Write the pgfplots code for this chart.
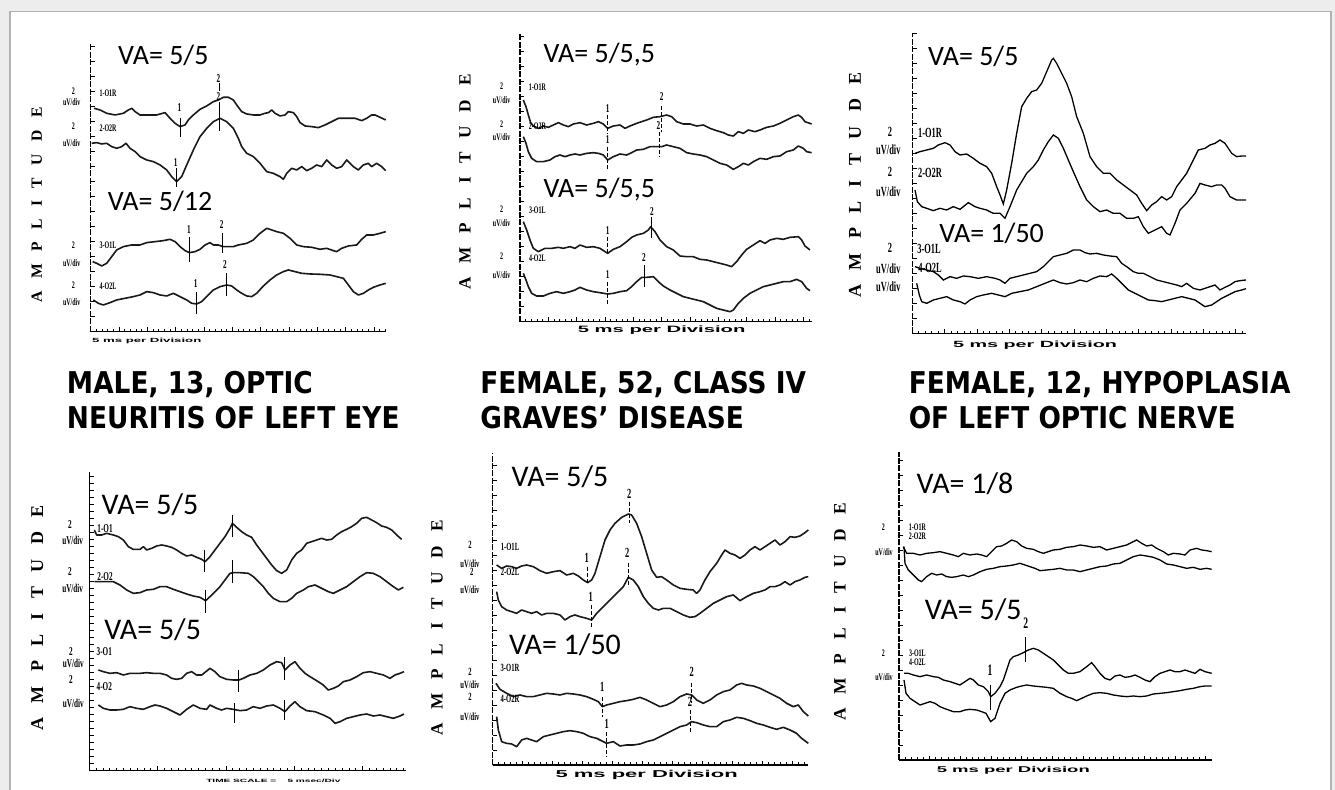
\documentclass[border=0pt]{standalone}
\usepackage{pgfplots}
\pgfplotsset{compat=1.18}
\usepackage{fontspec}
\setmainfont{Liberation Serif}
\newfontfamily\capf[FakeStretch=0.88]{DejaVu Sans}
\newfontfamily\vaf{Carlito}
\newfontfamily\ampf[LetterSpace=80]{Liberation Serif}
\newfontfamily\labf[FakeStretch=0.6]{Liberation Serif}
\newfontfamily\msf[FakeStretch=2.2]{Liberation Sans}
\tikzset{
  tr/.style={black!90, line width=0.8pt, line join=round, mark=none},
  mk/.style={black, line width=0.5pt},
  mkd/.style={black, line width=0.5pt, dash pattern=on 2pt off 1pt},
  va/.style={font={\vaf\fontsize{#1}{#1}\selectfont}, inner sep=0pt},
  lab/.style={font={\labf\bfseries\fontsize{#1}{#1}\selectfont}, inner sep=0pt},
  num/.style={font={\labf\bfseries\fontsize{#1}{#1}\selectfont}, inner sep=0pt},
  amp/.style={font={\ampf\bfseries\fontsize{#1}{#1}\selectfont}, inner sep=0pt, rotate=90},
  ms/.style={font={\msf\bfseries\fontsize{#1}{#1}\selectfont}, inner sep=0pt},
  captxt/.style={font={\capf\bfseries\fontsize{15}{15}\selectfont}, inner sep=0pt, anchor=base west},
}
\pgfplotsset{vep/.style={scale only axis, clip=false, anchor=north west,
  axis x line*=bottom, axis y line*=left, axis line style={-, black, line width=0.55pt},
  y axis line style={dash pattern=on 3pt off 0.7pt},
  tick align=inside, xticklabels={}, yticklabels={},
  major tick length=2.2pt, minor tick length=1.4pt,
  every tick/.style={black, line width=0.45pt}}}
\begin{document}
\begin{tikzpicture}
\useasboundingbox (0,0) rectangle (667.5pt,-395pt);
\fill[gray!14] (0,0) rectangle (667.5pt,-395pt);
\fill[white] (5pt,-5.8pt) rectangle (665.5pt,-400pt);
\draw[gray!60, line width=0.6pt] (5pt,-400pt) -- (5pt,-5.8pt) -- (665.5pt,-5.8pt) -- (665.5pt,-400pt);

% captions
\node[captxt] at (33.3pt,-196.7pt) {MALE, 13, OPTIC};
\node[captxt] at (33.3pt,-214.2pt) {NEURITIS OF LEFT EYE};
\node[captxt] at (240pt,-196.7pt) {FEMALE, 52, CLASS IV};
\node[captxt] at (240pt,-214.2pt) {GRAVES’ DISEASE};
\node[captxt] at (454.2pt,-196.7pt) {FEMALE, 12, HYPOPLASIA};
\node[captxt] at (454.2pt,-214.2pt) {OF LEFT OPTIC NERVE};

% ---------------- Panel 1 ----------------
\begin{axis}[vep, at={(45.35pt,-21.65pt)}, width=147.5pt, height=144.17pt,
  xmin=272, xmax=1157, ymin=-995, ymax=-130,
  xtick={272,357,...,1157}, minor xtick={272,289,...,1157}, ytick={-995,-950,...,-140}]
\addplot[tr] coordinates {(282,-325)(300,-330)(320,-340)(345,-345)(370,-340)(385,-330)(395,-325)(405,-335)(420,-345)(440,-345)(470,-345)(495,-338)(510,-355)(525,-370)(540,-380)(555,-375)(565,-360)(580,-345)(600,-328)(620,-318)(640,-305)(655,-300)(670,-292)(685,-292)(700,-300)(710,-315)(725,-335)(740,-342)(760,-345)(780,-345)(795,-340)(805,-338)(815,-330)(825,-340)(840,-348)(855,-345)(865,-335)(880,-338)(890,-350)(900,-368)(915,-378)(935,-380)(955,-383)(975,-375)(995,-365)(1015,-355)(1040,-355)(1065,-355)(1085,-362)(1100,-355)(1115,-345)(1125,-345)(1140,-352)(1157,-360)};
\addplot[tr] coordinates {(275,-430)(290,-428)(305,-432)(320,-430)(335,-440)(350,-445)(365,-440)(378,-430)(390,-445)(405,-455)(420,-470)(440,-480)(460,-485)(480,-495)(500,-510)(515,-530)(530,-545)(545,-530)(560,-495)(580,-450)(600,-410)(620,-385)(640,-365)(660,-355)(680,-365)(700,-385)(715,-415)(725,-440)(740,-460)(760,-470)(780,-490)(800,-515)(820,-520)(840,-530)(850,-538)(860,-520)(875,-505)(890,-510)(905,-500)(920,-512)(935,-505)(950,-495)(965,-500)(980,-480)(995,-495)(1010,-505)(1025,-500)(1040,-480)(1060,-500)(1075,-510)(1090,-495)(1105,-490)(1115,-500)(1130,-490)(1145,-500)(1157,-512)};
\addplot[tr] coordinates {(278,-785)(290,-790)(305,-798)(320,-790)(335,-770)(350,-750)(370,-740)(395,-735)(420,-735)(440,-728)(465,-725)(490,-722)(510,-718)(525,-725)(540,-740)(555,-752)(568,-758)(585,-755)(600,-748)(615,-735)(630,-728)(640,-735)(655,-735)(668,-740)(685,-740)(700,-740)(715,-735)(740,-730)(760,-720)(780,-700)(800,-685)(815,-690)(830,-695)(850,-700)(870,-715)(890,-735)(910,-740)(935,-742)(960,-748)(980,-745)(1000,-752)(1010,-755)(1025,-745)(1045,-738)(1070,-735)(1085,-718)(1100,-705)(1120,-705)(1140,-700)(1157,-695)};
\addplot[tr] coordinates {(280,-900)(295,-910)(310,-915)(330,-908)(350,-900)(375,-895)(400,-890)(420,-885)(440,-875)(460,-878)(480,-885)(500,-888)(520,-880)(540,-890)(560,-900)(575,-910)(590,-912)(605,-905)(620,-890)(640,-870)(660,-860)(680,-855)(695,-858)(710,-870)(725,-880)(740,-888)(755,-890)(770,-880)(790,-858)(810,-840)(830,-825)(850,-815)(865,-810)(885,-815)(905,-820)(930,-822)(960,-823)(990,-825)(1010,-830)(1030,-835)(1045,-855)(1060,-875)(1075,-885)(1090,-880)(1105,-870)(1120,-862)(1140,-855)(1157,-850)};
\node[va=14] at (axis cs:490,-165) {VA= 5/5};
\node[va=14] at (axis cs:480,-605) {VA= 5/12};
\node[amp=7.8] at (axis cs:110,-615) {AMPLITUDE};
\node[ms=3.0] at (axis cs:440,-1022) {5 ms per Division};
\node[lab=5] at (axis cs:220,-275) {2}; \node[lab=5] at (axis cs:215,-305) {uV/div}; \node[lab=5] at (axis cs:324,-280) {1-O1R};
\node[lab=5] at (axis cs:220,-380) {2}; \node[lab=5] at (axis cs:215,-430) {uV/div}; \node[lab=5] at (axis cs:324,-385) {2-O2R};
\node[lab=5] at (axis cs:220,-735) {2}; \node[lab=5] at (axis cs:215,-790) {uV/div}; \node[lab=5] at (axis cs:324,-735) {3-O1L};
\node[lab=5] at (axis cs:220,-855) {2}; \node[lab=5] at (axis cs:215,-905) {uV/div}; \node[lab=5] at (axis cs:324,-860) {4-O2L};
\draw[mk] (axis cs:540,-355) -- (axis cs:540,-410); \node[num=6] at (axis cs:538,-322) {1};
\draw[mk] (axis cs:658,-250) -- (axis cs:658,-272); \draw[mk] (axis cs:658,-305) -- (axis cs:658,-392);
\node[num=6] at (axis cs:655,-235) {2}; \node[num=6] at (axis cs:655,-290) {2};
\draw[mk] (axis cs:530,-505) -- (axis cs:530,-560); \node[num=6] at (axis cs:527,-487) {1};
\draw[mk] (axis cs:568,-712) -- (axis cs:568,-785); \node[num=6] at (axis cs:567,-690) {1};
\draw[mk] (axis cs:668,-698) -- (axis cs:668,-760); \node[num=6] at (axis cs:665,-675) {2};
\draw[mk] (axis cs:590,-875) -- (axis cs:590,-942); \node[num=6] at (axis cs:587,-852) {1};
\draw[mk] (axis cs:678,-818) -- (axis cs:678,-887); \node[num=6] at (axis cs:675,-793) {2};
\end{axis}

% ---------------- Panel 2 ----------------
\begin{axis}[vep, at={(260pt,-16.67pt)}, width=145.83pt, height=144.17pt,
  xmin=240, xmax=1115, ymin=-965, ymax=-100,
  xtick={240,325,...,1115}, minor xtick={240,257,...,1115}, ytick={-965,-920,...,-110}]
\addplot[tr] coordinates {(250,-300)(258,-320)(265,-345)(272,-368)(280,-378)(295,-385)(310,-378)(325,-382)(340,-375)(355,-368)(370,-375)(385,-380)(400,-372)(420,-368)(440,-375)(460,-370)(475,-365)(490,-372)(503,-385)(520,-378)(540,-375)(555,-385)(570,-378)(590,-370)(605,-365)(620,-360)(640,-352)(660,-350)(680,-345)(695,-350)(710,-365)(730,-372)(750,-372)(770,-378)(790,-375)(810,-385)(830,-392)(850,-398)(865,-405)(880,-408)(895,-395)(910,-400)(925,-390)(945,-395)(960,-390)(980,-382)(1000,-378)(1020,-370)(1040,-360)(1060,-350)(1075,-345)(1085,-352)(1095,-365)(1115,-372)};
\addplot[tr] coordinates {(250,-410)(258,-430)(265,-455)(275,-475)(290,-485)(310,-485)(330,-480)(345,-470)(360,-465)(375,-470)(390,-465)(405,-462)(420,-465)(440,-460)(460,-458)(475,-460)(490,-465)(503,-480)(520,-470)(540,-462)(560,-465)(575,-458)(590,-450)(610,-448)(630,-440)(650,-440)(665,-440)(680,-435)(700,-440)(720,-445)(740,-458)(760,-462)(780,-465)(800,-470)(820,-480)(840,-490)(860,-495)(880,-508)(895,-500)(910,-490)(925,-495)(940,-485)(960,-475)(980,-478)(1000,-470)(1020,-468)(1040,-455)(1060,-450)(1075,-438)(1090,-445)(1100,-455)(1115,-458)};
\addplot[tr] coordinates {(250,-665)(260,-690)(270,-720)(280,-745)(295,-755)(315,-745)(335,-745)(355,-742)(370,-745)(390,-740)(405,-745)(420,-735)(440,-742)(460,-740)(480,-745)(503,-760)(520,-748)(540,-740)(560,-725)(575,-712)(590,-705)(610,-700)(625,-690)(632,-680)(645,-695)(660,-720)(680,-740)(700,-750)(720,-768)(740,-770)(760,-770)(780,-778)(800,-780)(820,-785)(840,-790)(860,-795)(875,-800)(890,-785)(905,-765)(920,-748)(940,-735)(960,-722)(975,-730)(990,-720)(1010,-715)(1030,-718)(1050,-712)(1075,-710)(1085,-720)(1095,-738)(1110,-750)};
\addplot[tr] coordinates {(250,-820)(258,-840)(265,-860)(275,-880)(290,-888)(310,-888)(330,-880)(350,-875)(370,-880)(390,-875)(405,-870)(420,-862)(440,-870)(460,-875)(480,-878)(503,-882)(520,-880)(540,-875)(560,-872)(575,-860)(590,-845)(605,-832)(620,-832)(640,-830)(655,-845)(670,-858)(690,-870)(710,-880)(730,-890)(750,-895)(770,-900)(790,-905)(810,-915)(830,-925)(850,-930)(870,-935)(880,-930)(895,-910)(910,-895)(930,-880)(950,-870)(970,-860)(990,-855)(1010,-850)(1030,-845)(1050,-845)(1070,-838)(1085,-845)(1100,-865)(1110,-872)};
\node[va=14] at (axis cs:478,-165) {VA= 5/5,5};
\node[va=14] at (axis cs:478,-568) {VA= 5/5,5};
\node[amp=8.6] at (axis cs:75,-546) {AMPLITUDE};
\node[ms=4.6] at (axis cs:665,-990) {5 ms per Division};
\node[lab=5] at (axis cs:185,-258) {2}; \node[lab=5] at (axis cs:185,-300) {uV/div}; \node[lab=5] at (axis cs:292,-262) {1-O1R};
\node[lab=5] at (axis cs:185,-372) {2}; \node[lab=5] at (axis cs:185,-412) {uV/div}; \node[lab=5] at (axis cs:292,-380) {2-O2R};
\node[lab=5] at (axis cs:185,-628) {2}; \node[lab=5] at (axis cs:185,-668) {uV/div}; \node[lab=5] at (axis cs:292,-630) {3-O1L};
\node[lab=5] at (axis cs:185,-770) {2}; \node[lab=5] at (axis cs:185,-825) {uV/div}; \node[lab=5] at (axis cs:292,-775) {4-O2L};
\draw[mkd] (axis cs:503,-345) -- (axis cs:503,-400); \node[num=6] at (axis cs:503,-325) {1};
\draw[mkd] (axis cs:664,-318) -- (axis cs:664,-395); \node[num=6] at (axis cs:665,-290) {2};
\draw[mkd] (axis cs:658,-395) -- (axis cs:658,-470); \node[num=6] at (axis cs:655,-378) {2};
\draw[mkd] (axis cs:503,-440) -- (axis cs:503,-510); \node[num=6] at (axis cs:503,-420) {1};
\draw[mkd] (axis cs:503,-712) -- (axis cs:503,-765); \node[num=6] at (axis cs:503,-692) {1};
\draw[mk] (axis cs:634,-652) -- (axis cs:634,-715); \node[num=6] at (axis cs:636,-636) {2};
\draw[mkd] (axis cs:503,-845) -- (axis cs:503,-915); \node[num=6] at (axis cs:503,-825) {1};
\draw[mk] (axis cs:613,-795) -- (axis cs:613,-862); \node[num=6] at (axis cs:612,-772) {2};
\end{axis}

% ---------------- Panel 3 ----------------
\begin{axis}[vep, at={(456.17pt,-16.67pt)}, width=166.83pt, height=150pt,
  xmin=97, xmax=1098, ymin=-1000, ymax=-100,
  xtick={97,194,...,1098}, minor xtick={97,116.4,...,1098}, ytick={-1000,-955,...,-110},
  tr/.append style={line width=0.65pt}]
\addplot[tr] coordinates {(105,-460)(120,-455)(140,-450)(160,-445)(175,-435)(195,-428)(210,-435)(225,-455)(240,-465)(260,-462)(280,-475)(300,-490)(320,-500)(335,-520)(350,-560)(362,-590)(370,-612)(380,-570)(395,-490)(410,-400)(425,-320)(440,-295)(455,-275)(470,-270)(485,-250)(500,-215)(515,-180)(520,-175)(530,-190)(545,-220)(560,-250)(575,-290)(590,-350)(610,-400)(630,-470)(650,-500)(670,-520)(690,-520)(710,-540)(730,-555)(750,-570)(770,-585)(785,-610)(800,-632)(815,-615)(830,-605)(845,-590)(860,-600)(875,-590)(890,-560)(905,-540)(920,-520)(940,-480)(955,-450)(975,-445)(990,-435)(1005,-430)(1020,-420)(1035,-430)(1055,-460)(1070,-470)(1085,-468)(1098,-468)};
\addplot[tr] coordinates {(105,-570)(112,-605)(125,-620)(140,-625)(160,-632)(180,-625)(200,-630)(220,-620)(240,-628)(265,-608)(285,-620)(300,-625)(320,-630)(340,-640)(360,-640)(375,-655)(390,-620)(410,-570)(425,-545)(440,-520)(460,-500)(475,-480)(490,-450)(505,-425)(520,-405)(535,-415)(550,-445)(565,-480)(580,-515)(600,-560)(620,-600)(640,-620)(660,-635)(680,-630)(700,-640)(720,-640)(740,-655)(760,-655)(775,-650)(790,-680)(805,-700)(825,-690)(845,-680)(860,-700)(870,-705)(885,-670)(900,-630)(920,-610)(945,-580)(960,-550)(975,-555)(995,-560)(1010,-555)(1025,-555)(1035,-565)(1050,-590)(1070,-600)(1098,-600)};
\addplot[tr] coordinates {(105,-800)(120,-805)(140,-810)(160,-815)(175,-825)(190,-840)(210,-830)(230,-835)(250,-828)(270,-830)(295,-835)(320,-830)(345,-835)(360,-840)(375,-850)(390,-835)(410,-830)(430,-825)(450,-820)(470,-815)(490,-800)(505,-785)(520,-770)(540,-765)(560,-760)(580,-750)(600,-750)(615,-758)(630,-762)(650,-760)(670,-765)(690,-768)(710,-770)(725,-790)(740,-800)(760,-815)(775,-820)(790,-820)(810,-830)(830,-840)(850,-845)(870,-850)(890,-855)(905,-860)(920,-850)(940,-865)(960,-870)(975,-865)(990,-860)(1005,-855)(1020,-870)(1035,-862)(1050,-855)(1065,-845)(1080,-842)(1098,-840)};
\addplot[tr] coordinates {(110,-850)(118,-885)(125,-905)(140,-910)(160,-900)(180,-895)(200,-890)(220,-900)(240,-905)(255,-912)(270,-900)(290,-890)(310,-885)(335,-880)(355,-885)(375,-890)(395,-880)(420,-875)(445,-870)(470,-860)(495,-850)(520,-840)(540,-848)(560,-852)(580,-848)(600,-840)(620,-845)(640,-835)(660,-828)(680,-830)(695,-822)(710,-835)(725,-850)(745,-870)(765,-880)(785,-890)(805,-900)(825,-902)(845,-905)(865,-900)(885,-895)(905,-890)(925,-895)(945,-900)(960,-910)(975,-920)(995,-915)(1010,-905)(1025,-895)(1045,-885)(1065,-875)(1085,-870)(1098,-866)};
\node[va=14] at (axis cs:280,-170) {VA= 5/5};
\node[va=14] at (axis cs:335,-700) {VA= 1/50};
\node[amp=9.0] at (axis cs:-75,-555) {AMPLITUDE};
\node[ms=4.5] at (axis cs:465,-1035) {5 ms per Division};
\node[lab=7] at (axis cs:30,-395) {2}; \node[lab=7] at (axis cs:25,-450) {uV/div}; \node[lab=7] at (axis cs:150,-400) {1-O1R};
\node[lab=7] at (axis cs:30,-515) {2}; \node[lab=7] at (axis cs:25,-575) {uV/div}; \node[lab=7] at (axis cs:150,-518) {2-O2R};
\node[lab=7] at (axis cs:30,-745) {2}; \node[lab=7] at (axis cs:25,-805) {uV/div}; \node[lab=7] at (axis cs:147,-748) {3-O1L};
\node[lab=7] at (axis cs:25,-860) {uV/div}; \node[lab=7] at (axis cs:150,-805) {4-O2L};
\end{axis}

% ---------------- Panel 4 ----------------
\begin{axis}[vep, at={(44.67pt,-235.83pt)}, width=158.33pt, height=149.5pt,
  xmin=268, xmax=1218, ymin=-992, ymax=-95,
  xtick={268,473,...,1218}, minor xtick={268,288.5,...,1218}, ytick={-992,-971,...,-100},
  y axis line style={solid}]
\addplot[tr] coordinates {(283,-270)(290,-285)(305,-285)(320,-280)(340,-285)(355,-290)(370,-300)(385,-320)(400,-328)(420,-328)(430,-320)(440,-330)(455,-325)(470,-318)(485,-315)(500,-318)(515,-322)(530,-330)(545,-340)(560,-348)(575,-345)(590,-352)(605,-358)(615,-365)(630,-350)(645,-330)(660,-310)(675,-290)(690,-265)(697,-250)(710,-262)(725,-275)(740,-285)(755,-292)(770,-315)(785,-335)(800,-355)(815,-375)(830,-392)(845,-400)(860,-390)(875,-360)(890,-340)(905,-330)(920,-310)(935,-305)(950,-300)(965,-295)(980,-300)(995,-298)(1010,-285)(1025,-275)(1040,-268)(1055,-260)(1070,-250)(1085,-235)(1100,-232)(1115,-240)(1130,-248)(1145,-258)(1160,-262)(1175,-270)(1190,-285)(1205,-298)};
\addplot[tr] coordinates {(283,-425)(300,-425)(320,-425)(340,-425)(360,-435)(380,-450)(400,-460)(420,-458)(440,-450)(460,-448)(480,-440)(500,-440)(520,-448)(540,-455)(560,-462)(580,-468)(600,-472)(617,-482)(630,-470)(645,-455)(660,-440)(675,-420)(690,-400)(700,-398)(720,-398)(745,-400)(760,-410)(775,-425)(790,-440)(805,-460)(820,-475)(840,-485)(860,-485)(875,-475)(890,-460)(910,-450)(925,-440)(945,-435)(965,-445)(985,-455)(1000,-460)(1020,-450)(1040,-440)(1060,-425)(1080,-410)(1100,-398)(1120,-400)(1140,-410)(1160,-425)(1180,-440)(1195,-450)(1210,-442)};
\addplot[tr] coordinates {(295,-690)(310,-695)(330,-700)(350,-698)(370,-705)(390,-700)(405,-700)(420,-700)(440,-698)(460,-700)(480,-700)(500,-705)(515,-715)(530,-718)(545,-715)(560,-700)(575,-695)(590,-705)(605,-705)(630,-685)(645,-695)(660,-710)(680,-718)(700,-720)(717,-720)(730,-715)(750,-705)(770,-700)(790,-690)(810,-675)(830,-665)(845,-668)(855,-690)(870,-675)(885,-665)(900,-685)(915,-700)(930,-710)(950,-722)(970,-735)(985,-750)(1000,-745)(1015,-738)(1030,-725)(1050,-720)(1070,-710)(1090,-698)(1110,-695)(1130,-700)(1150,-705)(1170,-715)(1185,-705)(1200,-700)(1212,-695)};
\addplot[tr] coordinates {(295,-795)(310,-805)(330,-810)(350,-810)(370,-808)(390,-800)(410,-805)(430,-808)(450,-800)(465,-795)(480,-798)(500,-805)(520,-815)(540,-825)(560,-808)(580,-795)(600,-805)(620,-808)(630,-795)(650,-805)(665,-810)(680,-805)(700,-808)(720,-812)(740,-810)(760,-800)(780,-805)(800,-798)(820,-795)(840,-805)(855,-815)(870,-798)(885,-785)(900,-800)(920,-812)(945,-815)(970,-825)(990,-835)(1005,-850)(1020,-845)(1040,-835)(1060,-830)(1080,-825)(1100,-822)(1120,-828)(1140,-825)(1160,-830)(1180,-835)(1200,-828)(1212,-822)};
\node[va=15] at (axis cs:450,-195) {VA= 5/5};
\node[va=15] at (axis cs:458,-570) {VA= 5/5};
\node[amp=9.0] at (axis cs:112,-534) {AMPLITUDE};
\node[ms=2.3] at (axis cs:820,-1022) {TIME SCALE =\ \ \ \ 5 msec/Div};
\node[lab=6] at (axis cs:210,-255) {2}; \node[lab=6] at (axis cs:218,-300) {uV/div}; \node[lab=6] at (axis cs:315,-265) {1-O1};
\node[lab=6] at (axis cs:210,-395) {2}; \node[lab=6] at (axis cs:218,-445) {uV/div}; \node[lab=6] at (axis cs:315,-410) {2-O2};
\node[lab=6] at (axis cs:213,-635) {2}; \node[lab=6] at (axis cs:220,-670) {uV/div}; \node[lab=6] at (axis cs:313,-635) {3-O1};
\node[lab=6] at (axis cs:213,-718) {2}; \node[lab=6] at (axis cs:220,-790) {uV/div}; \node[lab=6] at (axis cs:313,-740) {4-O2};
\draw[mk] (axis cs:615,-330) -- (axis cs:615,-395); \draw[mk] (axis cs:697,-225) -- (axis cs:697,-290);
\draw[mk] (axis cs:617,-450) -- (axis cs:617,-520); \draw[mk] (axis cs:697,-360) -- (axis cs:697,-430);
\draw[mk] (axis cs:717,-690) -- (axis cs:717,-755); \draw[mk] (axis cs:855,-650) -- (axis cs:855,-720);
\draw[mk] (axis cs:703,-790) -- (axis cs:703,-850); \draw[mk] (axis cs:855,-780) -- (axis cs:855,-840);
\end{axis}

% ---------------- Panel 5 ----------------
\begin{axis}[vep, at={(246.33pt,-226.67pt)}, width=157.83pt, height=155.83pt,
  xmin=158, xmax=1105, ymin=-975, ymax=-40,
  xtick={158,248,...,1105}, minor xtick={158,176,...,1105}, ytick={-975,-930,...,-45}]
\addplot[tr] coordinates {(170,-375)(185,-385)(200,-378)(215,-380)(230,-385)(245,-378)(260,-375)(280,-380)(300,-392)(320,-400)(340,-395)(360,-392)(380,-405)(400,-400)(415,-408)(430,-420)(443,-428)(455,-420)(465,-400)(480,-350)(495,-300)(510,-270)(525,-250)(545,-232)(565,-222)(575,-225)(590,-250)(605,-290)(620,-340)(635,-390)(650,-412)(665,-410)(680,-420)(700,-435)(720,-445)(740,-448)(760,-450)(770,-460)(780,-450)(795,-420)(810,-395)(830,-370)(845,-345)(855,-330)(870,-340)(885,-345)(900,-355)(915,-345)(930,-330)(945,-320)(960,-330)(975,-320)(990,-310)(1005,-300)(1020,-315)(1035,-305)(1050,-290)(1065,-292)(1080,-288)(1095,-278)(1105,-270)};
\addplot[tr] coordinates {(170,-455)(175,-480)(185,-500)(200,-510)(215,-515)(230,-520)(245,-510)(260,-515)(275,-520)(290,-515)(305,-525)(320,-520)(340,-520)(360,-525)(375,-540)(390,-530)(405,-525)(420,-530)(440,-535)(455,-540)(470,-520)(490,-500)(510,-480)(530,-460)(550,-440)(565,-412)(580,-420)(595,-440)(610,-470)(625,-490)(640,-505)(655,-510)(670,-505)(690,-505)(710,-515)(730,-525)(750,-532)(765,-530)(780,-520)(800,-505)(820,-490)(840,-480)(860,-470)(880,-465)(900,-482)(920,-470)(940,-460)(960,-455)(975,-450)(990,-440)(1005,-440)(1020,-435)(1035,-425)(1050,-435)(1065,-425)(1080,-420)(1095,-412)(1105,-410)};
\addplot[tr] coordinates {(168,-730)(180,-748)(200,-760)(220,-770)(240,-765)(260,-770)(280,-770)(300,-765)(320,-760)(340,-762)(360,-765)(380,-760)(400,-762)(420,-765)(440,-770)(460,-778)(475,-785)(487,-800)(500,-795)(520,-790)(540,-785)(560,-782)(580,-778)(600,-772)(620,-780)(640,-790)(660,-800)(680,-795)(700,-785)(720,-770)(740,-762)(755,-765)(770,-780)(790,-790)(810,-780)(830,-765)(850,-755)(870,-750)(890,-735)(905,-730)(920,-735)(940,-738)(960,-745)(980,-755)(1000,-765)(1020,-775)(1040,-790)(1060,-800)(1075,-795)(1090,-815)(1105,-828)};
\addplot[tr] coordinates {(170,-830)(175,-870)(185,-905)(200,-910)(215,-912)(230,-920)(245,-900)(260,-895)(275,-900)(290,-905)(310,-890)(330,-885)(350,-880)(370,-875)(390,-872)(410,-875)(430,-880)(450,-890)(470,-895)(490,-905)(500,-910)(520,-905)(540,-918)(560,-915)(580,-915)(600,-912)(620,-905)(640,-900)(660,-890)(680,-880)(700,-870)(720,-860)(740,-855)(755,-845)(770,-848)(790,-855)(810,-860)(830,-860)(850,-845)(870,-840)(890,-832)(910,-835)(930,-842)(950,-850)(970,-855)(990,-862)(1010,-868)(1030,-862)(1050,-870)(1070,-880)(1085,-895)(1105,-910)};
\node[va=15] at (axis cs:360,-110) {VA= 5/5};
\node[va=15] at (axis cs:375,-615) {VA= 1/50};
\node[amp=8.6] at (axis cs:-9,-564) {AMPLITUDE};
\node[ms=5.0] at (axis cs:620,-1005) {5 ms per Division};
\node[lab=5.5] at (axis cs:90,-315) {2}; \node[lab=5.5] at (axis cs:90,-370) {uV/div}; \node[lab=5.5] at (axis cs:210,-322) {1-O1L};
\node[lab=5.5] at (axis cs:95,-395) {2}; \node[lab=5.5] at (axis cs:90,-450) {uV/div}; \node[lab=5.5] at (axis cs:210,-395) {2-O2L};
\node[lab=5.5] at (axis cs:90,-695) {2}; \node[lab=5.5] at (axis cs:90,-735) {uV/div}; \node[lab=5.5] at (axis cs:210,-685) {3-O1R};
\node[lab=5.5] at (axis cs:90,-770) {2}; \node[lab=5.5] at (axis cs:90,-830) {uV/div}; \node[lab=5.5] at (axis cs:210,-778) {4-O2R};
\draw[mkd] (axis cs:443,-380) -- (axis cs:443,-430); \node[num=7] at (axis cs:440,-355) {1};
\draw[mkd] (axis cs:570,-185) -- (axis cs:570,-250); \node[num=7] at (axis cs:568,-163) {2};
\draw[mkd] (axis cs:455,-495) -- (axis cs:455,-565); \node[num=7] at (axis cs:452,-470) {1};
\draw[mkd] (axis cs:565,-370) -- (axis cs:565,-440); \node[num=7] at (axis cs:562,-340) {2};
\draw[mkd] (axis cs:487,-770) -- (axis cs:487,-830); \node[num=7] at (axis cs:487,-740) {1};
\draw[mkd] (axis cs:755,-730) -- (axis cs:755,-790); \node[num=7] at (axis cs:755,-695) {2};
\draw[mkd] (axis cs:500,-875) -- (axis cs:500,-950); \node[num=7] at (axis cs:500,-852) {1};
\draw[mkd] (axis cs:752,-810) -- (axis cs:752,-880); \node[num=7] at (axis cs:750,-785) {2};
\end{axis}

% ---------------- Panel 6 ----------------
\begin{axis}[vep, at={(449.5pt,-225.83pt)}, width=156.33pt, height=154.17pt,
  xmin=57, xmax=995, ymin=-960, ymax=-35,
  xtick={57,149,...,995}, minor xtick={57,75.4,...,995}, ytick={-960,-915,...,-40},
  tr/.append style={line width=0.65pt}]
\addplot[tr] coordinates {(70,-320)(80,-340)(100,-340)(120,-345)(140,-340)(160,-338)(180,-335)(200,-340)(220,-345)(235,-350)(250,-340)(270,-345)(290,-342)(305,-345)(320,-350)(335,-335)(350,-320)(365,-318)(380,-310)(395,-300)(410,-305)(425,-318)(440,-325)(460,-328)(475,-335)(490,-340)(505,-335)(520,-330)(540,-328)(560,-322)(580,-320)(600,-315)(620,-318)(640,-322)(660,-320)(680,-330)(700,-325)(720,-320)(740,-315)(760,-305)(770,-300)(785,-310)(800,-318)(815,-315)(830,-325)(850,-335)(865,-345)(880,-340)(900,-342)(915,-345)(930,-330)(950,-325)(965,-330)(980,-332)(995,-335)};
\addplot[tr] coordinates {(72,-320)(75,-370)(85,-390)(100,-405)(115,-420)(125,-425)(140,-410)(155,-400)(170,-405)(185,-402)(200,-410)(215,-412)(230,-410)(250,-405)(265,-410)(280,-405)(300,-395)(320,-388)(340,-385)(360,-380)(380,-378)(400,-375)(420,-370)(435,-375)(450,-380)(465,-385)(480,-392)(500,-390)(520,-388)(540,-385)(560,-390)(580,-390)(600,-395)(620,-390)(640,-385)(660,-380)(680,-378)(700,-372)(720,-370)(740,-360)(760,-350)(780,-345)(800,-348)(820,-352)(840,-360)(860,-372)(880,-375)(900,-380)(920,-385)(940,-382)(960,-388)(980,-385)(995,-388)};
\addplot[tr] coordinates {(72,-700)(85,-700)(100,-705)(120,-710)(140,-705)(160,-710)(175,-712)(190,-720)(210,-725)(225,-730)(240,-735)(255,-725)(270,-715)(280,-720)(295,-735)(310,-740)(325,-755)(332,-770)(345,-760)(360,-740)(370,-720)(380,-690)(390,-660)(400,-650)(415,-645)(430,-638)(445,-630)(460,-625)(475,-630)(490,-640)(505,-650)(520,-660)(535,-675)(550,-690)(565,-700)(580,-700)(600,-695)(620,-680)(635,-668)(645,-680)(660,-700)(675,-715)(690,-720)(705,-708)(720,-705)(735,-712)(750,-710)(765,-705)(780,-712)(795,-720)(810,-725)(825,-710)(840,-700)(855,-695)(870,-690)(885,-695)(900,-695)(915,-690)(930,-695)(945,-700)(960,-688)(975,-695)(995,-700)};
\addplot[tr] coordinates {(72,-720)(78,-760)(90,-775)(105,-785)(120,-795)(135,-790)(150,-785)(165,-790)(180,-800)(200,-808)(220,-815)(240,-815)(255,-810)(270,-808)(290,-810)(305,-815)(318,-820)(332,-845)(345,-835)(360,-790)(375,-760)(390,-750)(410,-742)(425,-738)(440,-735)(460,-738)(480,-740)(500,-742)(520,-745)(540,-760)(560,-770)(575,-775)(590,-782)(605,-775)(620,-768)(640,-760)(660,-758)(680,-760)(700,-765)(720,-768)(740,-770)(760,-768)(780,-770)(800,-768)(820,-762)(840,-760)(860,-758)(880,-755)(900,-752)(920,-748)(940,-745)(960,-740)(975,-738)(995,-738)};
\node[va=15] at (axis cs:255,-130) {VA= 1/8};
\node[va=15] at (axis cs:280,-510) {VA= 5/5};
\node[amp=8.7] at (axis cs:-120,-516) {AMPLITUDE};
\node[ms=4.2] at (axis cs:400,-990) {5 ms per Division};
\node[lab=5] at (axis cs:10,-262) {2}; \node[lab=5] at (axis cs:12,-335) {uV/div};
\node[lab=5] at (axis cs:112,-262) {1-O1R}; \node[lab=5] at (axis cs:112,-288) {2-O2R};
\node[lab=5] at (axis cs:10,-640) {2}; \node[lab=5] at (axis cs:12,-710) {uV/div};
\node[lab=5] at (axis cs:112,-640) {3-O1L}; \node[lab=5] at (axis cs:112,-668) {4-O2L};
\draw[mk] (axis cs:332,-735) -- (axis cs:332,-810); \node[num=8] at (axis cs:330,-690) {1};
\draw[mk] (axis cs:438,-592) -- (axis cs:438,-665); \node[num=8] at (axis cs:437,-550) {2};
\end{axis}
\end{tikzpicture}
\end{document}
